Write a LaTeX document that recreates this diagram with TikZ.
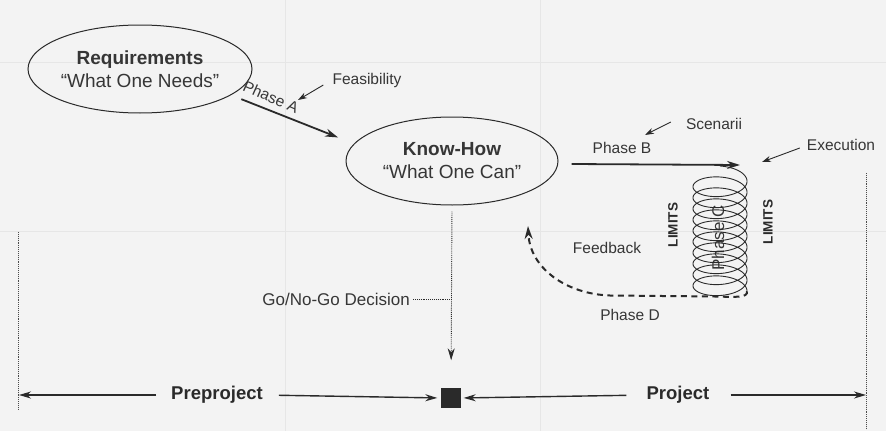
\documentclass[tikz,border=0pt]{standalone}
\usepackage{fontspec}
\setmainfont{Liberation Sans}
\usetikzlibrary{arrows.meta,shapes.geometric,calc}
\definecolor{ink}{HTML}{2A2A2A}
\definecolor{txt}{HTML}{363636}
\definecolor{paper}{HTML}{F3F3F3}
\definecolor{ghost}{HTML}{E6E6E6}
\begin{document}
\begin{tikzpicture}[x=1pt,y=-1pt,
  font=\fontsize{15.5}{18}\selectfont,
  every node/.style={text=txt},
  goal/.style={ellipse, draw=ink, line width=1pt, minimum width=212pt, minimum height=88pt,
    inner sep=0pt, align=center, font=\fontsize{19}{23}\selectfont},
  tag/.style={inner sep=0pt},
  stage/.style={inner sep=0pt, font=\fontsize{18.5}{22}\selectfont\bfseries, text=ink},
  limit/.style={inner sep=0pt, rotate=90, font=\fontsize{13.5}{16}\selectfont\bfseries, text=ink},
  phase/.style={draw=ink, line width=1.8pt, -{Stealth[length=13pt,width=8pt]}},
  pointer/.style={draw=ink, line width=0.9pt, -{Stealth[length=9pt,width=6pt]}},
  span/.style={draw=ink, line width=1.4pt, -{Stealth[length=12pt,width=7pt]}},
  boundary/.style={draw=ink!85, line width=0.9pt, densely dotted},
  leader/.style={draw=ink, line width=0.9pt, densely dotted},
  loopback/.style={draw=ink, line width=2pt, dash pattern=on 6pt off 4.5pt,
    -{Stealth[length=13pt,width=8pt]}},
]
% paper and faint ruled table behind the diagram
\fill[paper] (0,0) rectangle (886,431);
\useasboundingbox (0,0) rectangle (886,431);
\draw[ghost, line width=1pt] (0,62) -- (886,62) (0,231) -- (886,231)
  (285,0) -- (285,431) (540,0) -- (540,431);

% the two goal ellipses
\node[goal] (req) at (140,69) {\textbf{Requirements}\\“What One Needs”};
\node[goal] (kh) at (452,161) {\textbf{Know-How}\\“What One Can”};

% Phase A
\draw[phase, shorten <=11pt, shorten >=17pt] (req.-16.5) -- (kh.170.6);
\node[tag, rotate=-24] (phA) at (271,97) {Phase A};
\node[tag] (feas) at (367,80) {Feasibility};
\coordinate (feasTip) at (298,100);
\draw[pointer] ($(feas.west)+(-9,5)$) -- (feasTip);

% coil of phase C with its limits
\node[limit, font=\fontsize{17}{20}\selectfont, text=txt] (phC) at (718,238) {Phase C};
\node[limit] (limL) at (673,225) {LIMITS};
\node[limit] (limR) at (768,222) {LIMITS};
\draw[ink, line width=0.9pt] plot[domain=0:3690, samples=1200, variable=\t]
  ({720+27*sin(\t)}, {178.5+11*(\t/360)-12.5*cos(\t)});
\coordinate (coilTop) at (740,165);
\coordinate (coilEnd) at (747,291.25);

% Phase B
\draw[phase] ($(kh.east)+(13,3)$) -- (coilTop);
\node[tag] (phB) at (622,148) {Phase B};
\node[tag] (scen) at (714,124) {Scenarii};
\coordinate (scenTip) at (645,135);
\draw[pointer] ($(scen.west)+(-15,-2)$) -- (scenTip);
\node[tag] (exec) at (841,145) {Execution};
\coordinate (execTip) at (762,162);
\draw[pointer] ($(exec.west)+(-7,3)$) -- (execTip);

% Phase D feedback loop
\coordinate (backTip) at (528,226);
\draw[loopback] (coilEnd) .. controls (748,298) and (736,297) .. (715,296.5)
  -- (610,295.5) .. controls (566,294) and (530,268) .. (backTip);
\node[tag] (fb) at (607,248) {Feedback};
\node[tag] (phD) at (630,315) {Phase D};

% go / no-go decision
\node[fill=ink, draw=ink, minimum size=19pt, inner sep=0pt] (gate) at (451,398) {};
\node[tag, anchor=east, font=\fontsize{17}{20}\selectfont] (gng) at (410,299) {Go/No-Go Decision};
\draw[leader, shorten <=6pt, shorten >=28pt, -{Stealth[length=12pt,width=7pt]}]
  (kh.south) -- (gate.north);
\draw[leader] ($(gng.east)+(3,0)$) -- (gng.east -| gate.north);

% preproject / project time line
\draw[boundary] (18,232) -- (18,410);
\draw[boundary] (866,173) -- (866,428);
\coordinate (leftEnd) at (19,395);
\coordinate (rightEnd) at (866,395);
\node[stage] (pre) at (217,395) {Preproject};
\node[stage] (proj) at (678,395) {Project};
\draw[span, shorten <=15pt] (pre.west) -- (leftEnd);
\draw[span, shorten <=16pt, shorten >=4pt] (pre.east) -- (gate.west);
\draw[span, shorten <=20pt, shorten >=3pt] (proj.west) -- (gate.east);
\draw[span, shorten <=21pt] (proj.east) -- (rightEnd);
\end{tikzpicture}
\end{document}
